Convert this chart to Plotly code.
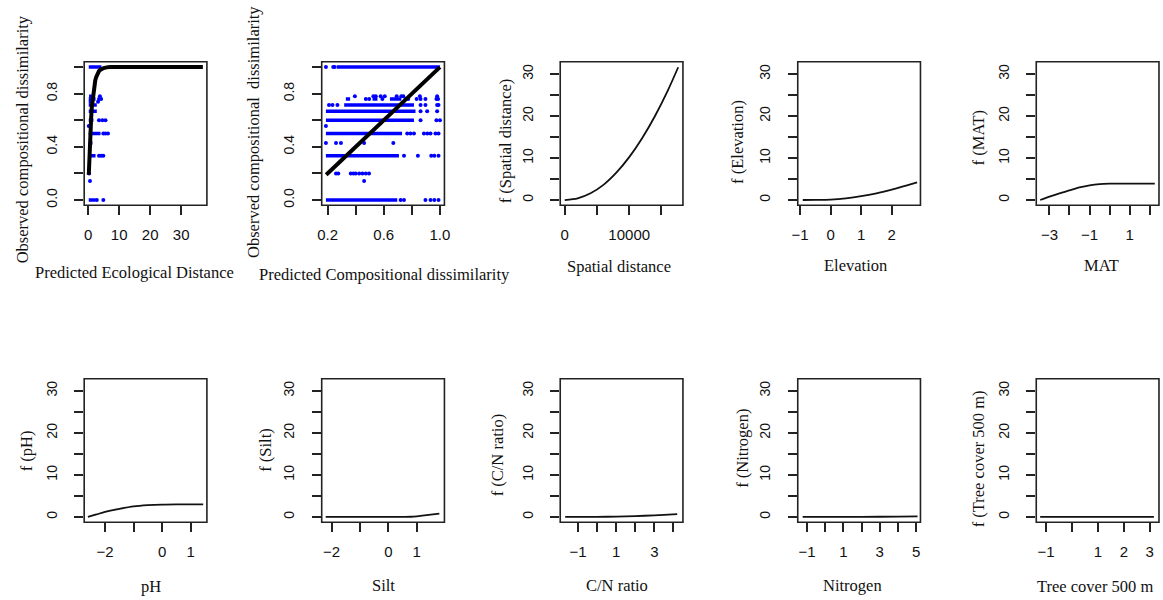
import plotly.graph_objects as go

W, H = 1163, 600
MINUS = "\u2212"
SERIF = "Liberation Serif, Times New Roman, DejaVu Serif, serif"
SANS = "Liberation Sans, Arial, sans-serif"

# ---------------- Panel 1: observed vs predicted ecological distance ----------------
eco_curve_x = [0.21, 0.3, 0.4, 0.55, 0.7, 0.85, 1.0, 1.2, 1.4, 1.6, 1.8, 2.0, 2.3, 2.6,
               3.0, 3.5, 4.0, 4.5, 5.0, 6.0, 7.0, 37.0]
eco_curve_y = [0.19, 0.26, 0.33, 0.42, 0.5, 0.57, 0.63, 0.7, 0.75, 0.8, 0.83, 0.865, 0.9, 0.925,
               0.95, 0.97, 0.98, 0.989, 0.993, 0.998, 1.0, 1.0]
eco_band_y = [1.0, 0.78, 0.76, 0.74, 0.714, 0.667, 0.6, 0.5, 0.429, 0.333, 0.0]
eco_band_x0 = [0.2, 0.3, 0.2, 0.2, 0.2, 0.2, 0.2, 0.2, 0.2, 0.2, 0.2]
eco_band_x1 = [4.3, 2.1, 2.4, 1.7, 2.8, 2.8, 1.7, 4.0, 1.4, 2.4, 2.4]
eco_pts_x = [3.8, 3.5, 4.2, 3.2, 3.5, 4.6, 5.6, 0.2, 4.9, 5.6, 6.4, 3.5, 4.2, 4.9, 0.3, 0.6, 2.8, 4.9]
eco_pts_y = [0.78, 0.76, 0.76, 0.74, 0.6, 0.6, 0.6, 0.556, 0.5, 0.5, 0.5, 0.333, 0.333, 0.333, 0.2, 0.143, 0.0, 0.0]

# ---------------- Panel 2: observed vs predicted compositional dissimilarity ----------------
cd_line_x = [0.19, 1.0]
cd_line_y = [0.19, 1.0]
cd_band_y = [1.0, 0.76, 0.76, 0.76, 0.714, 0.667, 0.6, 0.5, 0.333, 0.0]
cd_band_x0 = [0.265, 0.33, 0.52, 0.644, 0.318, 0.188, 0.188, 0.188, 0.188, 0.188]
cd_band_x1 = [1.0, 0.36, 0.555, 0.725, 0.815, 0.826, 0.815, 0.73, 0.708, 0.696]
cd_pts_x = [0.188, 0.24, 0.25,
            0.394, 0.526, 0.543, 0.578, 0.607, 0.692, 0.725, 0.739, 0.857, 0.98,
            0.472, 0.496, 0.59, 0.756, 0.774, 0.834, 0.862, 0.897, 0.975, 0.987,
            0.21, 0.235, 0.27, 0.862, 0.897, 0.98, 0.99,
            0.862, 0.909, 0.98,
            0.862, 0.975, 1.0,
            0.188,
            0.767, 0.79, 0.815, 0.886, 0.91, 0.933, 0.968, 0.99,
            0.188, 0.26, 0.295, 0.46, 0.668,
            0.744, 0.843, 0.938, 0.96, 0.99,
            0.26, 0.276, 0.365, 0.384, 0.40, 0.425, 0.448, 0.472, 0.495,
            0.46,
            0.72, 0.744, 0.897, 0.933, 0.96, 0.99]
cd_pts_y = [1.0, 1.0, 1.0,
            0.78, 0.78, 0.78, 0.78, 0.78, 0.78, 0.78, 0.78, 0.78, 0.78,
            0.76, 0.76, 0.76, 0.76, 0.76, 0.76, 0.76, 0.76, 0.76, 0.76,
            0.714, 0.714, 0.714, 0.714, 0.714, 0.714, 0.714,
            0.667, 0.667, 0.667,
            0.6, 0.6, 0.6,
            0.556,
            0.5, 0.5, 0.5, 0.5, 0.5, 0.5, 0.5, 0.5,
            0.429, 0.429, 0.429, 0.429, 0.429,
            0.333, 0.333, 0.333, 0.333, 0.333,
            0.2, 0.2, 0.2, 0.2, 0.2, 0.2, 0.2, 0.2, 0.2,
            0.143,
            0.0, 0.0, 0.0, 0.0, 0.0, 0.0]

# ---------------- Partial response curves ----------------
spatial_x = [0, 2000, 4000, 6000, 8000, 10000, 12000, 14000, 16000, 17600]
spatial_y = [0, 0.4, 1.6, 3.6, 6.5, 10.2, 14.7, 20.0, 26.1, 31.6]
elev_x = [-0.91, -0.5, 0, 0.5, 1, 1.5, 2, 2.5, 2.83]
elev_y = [0, 0.02, 0.1, 0.4, 0.9, 1.6, 2.5, 3.5, 4.2]
mat_x = [-3.46, -3, -2.5, -2, -1.5, -1, -0.5, 0, 1, 2.25]
mat_y = [0, 0.8, 1.6, 2.3, 3.0, 3.5, 3.8, 3.9, 3.9, 3.9]
ph_x = [-2.6, -2.3, -2, -1.5, -1, -0.5, 0, 0.5, 1, 1.44]
ph_y = [0, 0.6, 1.2, 1.9, 2.5, 2.8, 2.95, 3.0, 3.0, 3.0]
silt_x = [-2.21, -1, 0, 0.5, 0.8, 1.0, 1.2, 1.5, 1.8]
silt_y = [0, 0, 0, 0.01, 0.05, 0.15, 0.3, 0.55, 0.8]
cn_x = [-1.67, -1, 0, 1, 2, 3, 3.5, 4.2]
cn_y = [0, 0, 0.02, 0.08, 0.2, 0.4, 0.5, 0.7]
nit_x = [-1.24, 0, 2, 4, 5.08]
nit_y = [0, 0, 0.03, 0.08, 0.15]
tree_x = [-1.23, 0, 1, 2, 3.16]
tree_y = [0, 0, 0, 0, 0]

# ---------------- Axis titles and ticks ----------------
x_titles = ["Predicted Ecological Distance", "Predicted Compositional dissimilarity",
            "Spatial distance", "Elevation", "MAT",
            "pH", "Silt", "C/N ratio", "Nitrogen", "Tree cover 500 m"]
y_titles = ["Observed compositional dissimilarity", "Observed compositional  dissimilarity",
            "f (Spatial distance)", "f (Elevation)", "f (MAT)",
            "f (pH)", "f (Silt)", "f (C/N ratio)", "f (Nitrogen)", "f (Tree cover 500 m)"]

x_tickvals = [[0, 10, 20, 30], [0.2, 0.4, 0.6, 0.8, 1.0], [0, 5000, 10000, 15000],
              [-1, 0, 1, 2], [-3, -2, -1, 0, 1, 2],
              [-2, -1, 0, 1], [-2, -1, 0, 1], [-1, 0, 1, 2, 3, 4],
              [-1, 0, 1, 2, 3, 4, 5], [-1, 0, 1, 2, 3]]
x_ticktext = [["0", "10", "20", "30"], ["0.2", "", "0.6", "", "1.0"], ["0", "", "10000", ""],
              [MINUS + "1", "0", "1", "2"], [MINUS + "3", "", MINUS + "1", "", "1", ""],
              [MINUS + "2", "", "0", "1"], [MINUS + "2", "", "0", "1"],
              [MINUS + "1", "", "1", "", "3", ""],
              [MINUS + "1", "", "1", "", "3", "", "5"], [MINUS + "1", "", "1", "2", "3"]]
prop_yvals = [0, 0.2, 0.4, 0.6, 0.8, 1.0]
prop_ytext = ["0.0", "", "0.4", "", "0.8", ""]
f_yvals = [0, 5, 10, 15, 20, 25, 30]
f_ytext = ["0", "", "10", "", "20", "", "30"]

x_ranges = [[-1.27, 38.3], [0.158, 1.032], [-705, 18335], [-1.075, 2.94], [-3.656, 2.36],
            [-2.73, 1.57], [-2.35, 1.98], [-1.93, 4.5], [-1.51, 5.24], [-1.38, 3.28]]

# ---------------- Layout geometry (pixels) ----------------
col_left = [79, 319, 560, 800, 1041]
box_w = 124
row_top = [62, 380]
box_h = 144

xt_pos = [(130, 273), (382, 275), (619, 267), (858, 266), (1107, 266),
          (147, 588), (381, 587), (617, 587), (855, 587), (1100, 588)]
yt_pos = [(17, 140), (250, 132), (505, 141), (739, 142), (983, 138),
          (21, 452), (262, 451), (497, 457), (744, 450), (983, 460)]

fig = go.Figure()
BLUE = "#0000FF"

def ax(i):
    return ("x" if i == 1 else f"x{i}"), ("y" if i == 1 else f"y{i}")

# Panel 1
xa, ya = ax(1)
bx, by = [], []
for yv, a, b in zip(eco_band_y, eco_band_x0, eco_band_x1):
    bx += [a, b, None]
    by += [yv, yv, None]
fig.add_trace(go.Scatter(x=bx, y=by, mode="lines", line=dict(color=BLUE, width=3.5),
                         xaxis=xa, yaxis=ya, hoverinfo="skip"))
fig.add_trace(go.Scatter(x=eco_pts_x, y=eco_pts_y, mode="markers",
                         marker=dict(color=BLUE, size=4), xaxis=xa, yaxis=ya))
fig.add_trace(go.Scatter(x=eco_curve_x, y=eco_curve_y, mode="lines",
                         line=dict(color="black", width=4), xaxis=xa, yaxis=ya))

# Panel 2
xa, ya = ax(2)
bx, by = [], []
for yv, a, b in zip(cd_band_y, cd_band_x0, cd_band_x1):
    bx += [a, b, None]
    by += [yv, yv, None]
fig.add_trace(go.Scatter(x=bx, y=by, mode="lines", line=dict(color=BLUE, width=3.5),
                         xaxis=xa, yaxis=ya, hoverinfo="skip"))
fig.add_trace(go.Scatter(x=cd_pts_x, y=cd_pts_y, mode="markers",
                         marker=dict(color=BLUE, size=4), xaxis=xa, yaxis=ya))
fig.add_trace(go.Scatter(x=cd_line_x, y=cd_line_y, mode="lines",
                         line=dict(color="black", width=4), xaxis=xa, yaxis=ya))

curves = [(spatial_x, spatial_y), (elev_x, elev_y), (mat_x, mat_y), (ph_x, ph_y),
          (silt_x, silt_y), (cn_x, cn_y), (nit_x, nit_y), (tree_x, tree_y)]
for k, (cx, cy) in enumerate(curves):
    xa, ya = ax(k + 3)
    fig.add_trace(go.Scatter(x=cx, y=cy, mode="lines", line_shape="spline",
                             line=dict(color="#111111", width=1.8, smoothing=0.7),
                             xaxis=xa, yaxis=ya))

layout = dict(width=W, height=H, margin=dict(l=0, r=0, t=0, b=0),
              paper_bgcolor="white", plot_bgcolor="white", showlegend=False)
shapes, annotations = [], []
for i in range(1, 11):
    r = 0 if i <= 5 else 1
    c = (i - 1) % 5
    left = col_left[c]
    right = left + box_w
    top = row_top[r]
    bottom = top + box_h
    dom_right = min(right, W)
    xkey = "xaxis" if i == 1 else f"xaxis{i}"
    ykey = "yaxis" if i == 1 else f"yaxis{i}"
    yv, yt = (prop_yvals, prop_ytext) if i <= 2 else (f_yvals, f_ytext)
    yr = [-0.04, 1.04] if i <= 2 else [-1.26, 32.9]
    layout[xkey] = dict(domain=[left / W, dom_right / W], range=x_ranges[i - 1],
                        anchor=ax(i)[1], showgrid=False, zeroline=False, showline=False,
                        ticks="outside", ticklen=9, tickwidth=1.5, tickcolor="#222",
                        tickvals=x_tickvals[i - 1], ticktext=x_ticktext[i - 1],
                        tickfont=dict(family=SANS, size=15, color="#111"),
                        ticklabelstandoff=7, fixedrange=True)
    layout[ykey] = dict(domain=[1 - bottom / H, 1 - top / H], range=yr,
                        anchor=ax(i)[0], showgrid=False, zeroline=False, showline=False,
                        ticks="outside", ticklen=9, tickwidth=1.5, tickcolor="#222",
                        tickvals=yv, ticktext=yt, tickangle=-90,
                        tickfont=dict(family=SANS, size=14, color="#111"),
                        ticklabelstandoff=12, fixedrange=True)
    shapes.append(dict(type="rect", xref="paper", yref="paper",
                       x0=left / W, x1=right / W, y0=1 - bottom / H, y1=1 - top / H,
                       line=dict(color="#222", width=1.6), fillcolor="rgba(0,0,0,0)"))
    tx, ty = xt_pos[i - 1]
    annotations.append(dict(text=x_titles[i - 1], xref="paper", yref="paper",
                            x=tx / W, y=1 - ty / H, xanchor="center", yanchor="middle",
                            showarrow=False,
                            font=dict(family=SERIF, size=16.5, color="#111")))
    sx, sy = yt_pos[i - 1]
    annotations.append(dict(text=y_titles[i - 1], xref="paper", yref="paper",
                            x=sx / W, y=1 - sy / H, xanchor="center", yanchor="middle",
                            textangle=-90, showarrow=False,
                            font=dict(family=SERIF, size=16.5, color="#111")))

layout["shapes"] = shapes
layout["annotations"] = annotations
fig.update_layout(**layout)
fig.write_html("out.html")
